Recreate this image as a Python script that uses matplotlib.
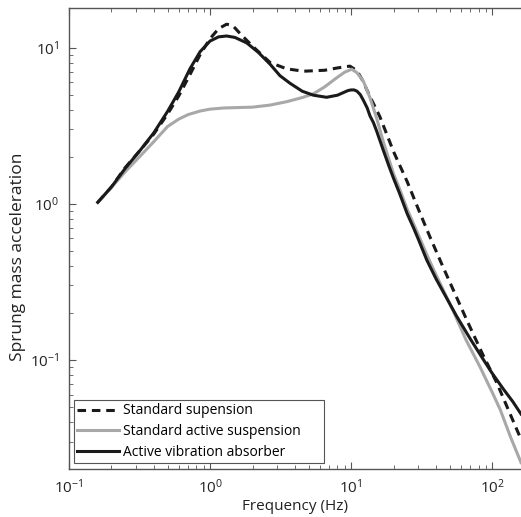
import matplotlib.pyplot as plt

plt.rcParams['font.family'] = ['Open Sans', 'DejaVu Sans']
plt.rcParams['mathtext.fontset'] = 'custom'
plt.rcParams['mathtext.rm'] = 'Open Sans'
plt.rcParams['mathtext.it'] = 'Open Sans'
plt.rcParams['mathtext.default'] = 'rm'

# frequency responses
freq_std = [0.16, 0.2, 0.25, 0.32, 0.4, 0.5, 0.6, 0.72, 0.85, 1.0, 1.15, 1.31,
            1.45, 1.63, 2.0, 2.67, 3.5, 4.6, 6.5, 8.0, 9.8, 11.0, 12.0, 13.0,
            14.0, 16.0, 20.0, 25.0, 30.0, 36.0, 45.0, 55.0, 66.0, 85.0, 108.0,
            130.0, 160.0]
acc_std = [1.02, 1.28, 1.7, 2.2, 2.8, 3.75, 4.9, 6.7, 9.0, 11.4, 13.2, 14.1,
           13.8, 12.3, 10.2, 8.0, 7.3, 7.05, 7.15, 7.4, 7.6, 7.1, 6.2, 5.3,
           4.6, 3.6, 2.15, 1.38, 0.92, 0.62, 0.39, 0.26, 0.18, 0.11, 0.071,
           0.048, 0.031]

freq_act = [0.16, 0.2, 0.25, 0.32, 0.4, 0.5, 0.6, 0.7, 0.85, 1.0, 1.25, 1.5,
            2.0, 2.67, 3.5, 4.5, 5.4, 6.5, 7.9, 9.0, 10.1, 11.0, 12.2, 13.6,
            15.2, 17.0, 20.0, 22.0, 25.0, 30.0, 35.0, 40.0, 45.0, 53.0, 65.0,
            82.0, 100.0, 114.0, 135.0, 160.0]
acc_act = [1.02, 1.27, 1.6, 2.02, 2.5, 3.12, 3.48, 3.72, 3.92, 4.03, 4.1, 4.12,
           4.15, 4.28, 4.5, 4.78, 5.05, 5.6, 6.4, 6.95, 7.26, 6.9, 6.1, 4.78,
           3.5, 2.45, 1.55, 1.25, 0.92, 0.63, 0.455, 0.35, 0.28, 0.205, 0.135,
           0.09, 0.062, 0.048, 0.032, 0.022]

freq_avb = [0.16, 0.2, 0.25, 0.32, 0.4, 0.5, 0.6, 0.72, 0.85, 1.0, 1.15, 1.31,
            1.5, 1.82, 2.2, 2.67, 3.13, 3.69, 4.5, 5.4, 6.7, 8.0, 9.5, 10.0,
            10.5, 11.0, 11.6, 12.2, 13.0, 13.6, 14.4, 15.2, 16.9, 18.5, 20.0,
            22.0, 25.0, 27.7, 30.0, 34.4, 40.0, 45.0, 56.0, 70.0, 85.0, 100.0,
            120.0, 140.0, 160.0]
acc_avb = [1.02, 1.28, 1.68, 2.2, 2.85, 3.9, 5.2, 7.3, 9.4, 11.0, 11.7, 11.85,
           11.6, 10.7, 9.3, 7.8, 6.6, 5.9, 5.25, 4.95, 4.8, 4.95, 5.3, 5.35,
           5.35, 5.25, 5.0, 4.6, 4.1, 3.65, 3.3, 2.9, 2.2, 1.75, 1.45, 1.17,
           0.86, 0.70, 0.59, 0.435, 0.33, 0.272, 0.19, 0.136, 0.103, 0.082,
           0.065, 0.054, 0.045]

fig = plt.figure(figsize=(5.21, 5.17), dpi=100)
ax = fig.add_axes([0.1324, 0.0928, 0.8676, 0.8917])

ax.loglog(freq_std, acc_std, color='#1a1a1a', lw=2.2, ls=(0, (2.8, 1.9)),
          label='Standard supension')
ax.loglog(freq_act, acc_act, color='#a8a8a8', lw=2.2,
          label='Standard active suspension')
ax.loglog(freq_avb, acc_avb, color='#1a1a1a', lw=2.2,
          label='Active vibration absorber')

ax.set_xlim(0.1, 160)
ax.set_ylim(0.02, 17.9)

ax.set_xlabel('Frequency (Hz)', fontsize=11, color='#222222')
ax.set_ylabel('Sprung mass acceleration', fontsize=12.5, color='#222222')
ax.xaxis.set_label_coords(0.499, -0.065)
ax.yaxis.set_label_coords(-0.095, 0.46)

for side in ['left', 'top', 'bottom']:
    ax.spines[side].set_color('#555555')
    ax.spines[side].set_linewidth(1.0)
ax.spines['right'].set_visible(False)

ax.tick_params(which='both', direction='in', top=True, right=False,
               colors='#555555', labelcolor='#222222', labelsize=11)
ax.tick_params(which='major', length=5, width=0.8, pad=7)
ax.tick_params(which='minor', length=3, width=0.6)

# legend box stretched to a fixed width in the lower left corner
leg = ax.legend(loc='lower left', bbox_to_anchor=(0.011, 0.013, 0.553, 0.2),
                mode='expand', borderaxespad=0, fontsize=10, frameon=True,
                fancybox=False, framealpha=1, edgecolor='#555555',
                handlelength=3.0, handletextpad=0.25, labelspacing=0.4,
                borderpad=0.25)
leg.get_frame().set_linewidth(0.8)

fig.savefig('out.png', dpi=100)
